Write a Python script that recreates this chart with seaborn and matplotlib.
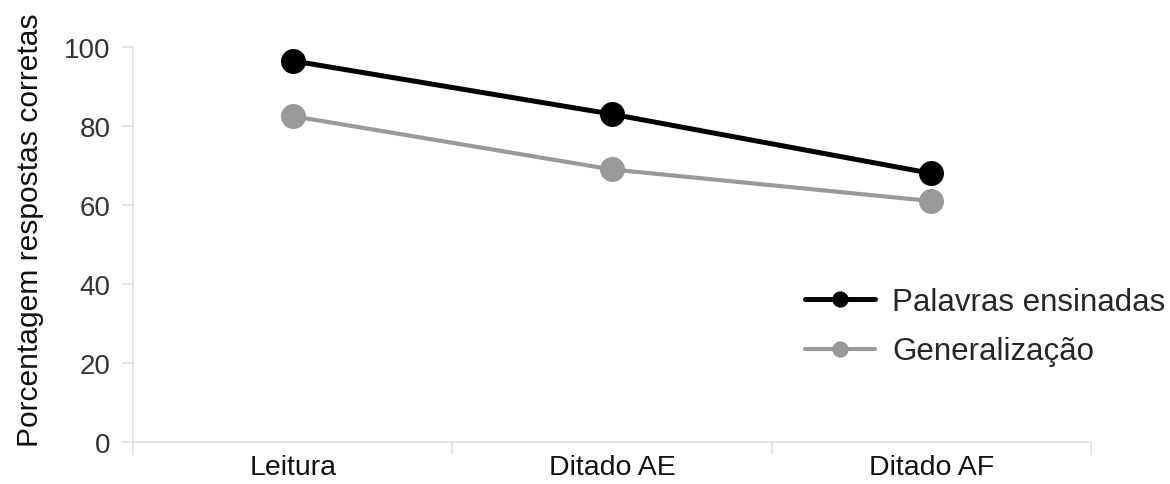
import pandas as pd
import matplotlib
matplotlib.use('Agg')
import matplotlib.pyplot as plt
import seaborn as sns

categorias = ['Leitura', 'Ditado AE', 'Ditado AF']
palavras_ensinadas = [96.5, 83.0, 68.0]
generalizacao = [82.5, 69.0, 61.0]
series = ['Palavras ensinadas', 'Generalização']

df = pd.DataFrame({
    'Tarefa': categorias * 2,
    'Porcentagem': palavras_ensinadas + generalizacao,
    'Serie': [series[0]] * 3 + [series[1]] * 3,
})

sns.set_style('white')
plt.rcParams['font.family'] = ['Liberation Sans', 'DejaVu Sans']

fig = plt.figure(figsize=(11.7, 4.85), dpi=100)
ax = fig.add_axes([0.1137, 0.0866, 0.8188, 0.8144])

cores = {series[0]: '#000000', series[1]: '#999999'}
sns.lineplot(data=df, x='Tarefa', y='Porcentagem', hue='Serie', palette=cores,
             marker='o', markersize=18, markeredgewidth=0, linewidth=3.6,
             sort=False, ax=ax)
for linha in ax.lines:
    if linha.get_color() == '#999999':
        linha.set_linewidth(3.0)

ax.set_xlim(-0.5, 2.5)
ax.set_ylim(0, 100)
ax.set_yticks([0, 20, 40, 60, 80, 100])
ax.set_xticks([0, 1, 2])
ax.set_xticklabels(categorias)
ax.set_xticks([-0.5, 0.5, 1.5, 2.5], minor=True)
ax.tick_params(axis='x', which='major', length=0, pad=9, labelsize=20.5, labelcolor='#111111')
ax.tick_params(axis='x', which='minor', length=9, width=1.2, color='#e0e0e0', direction='out', bottom=True)
ax.tick_params(axis='y', length=8, width=1.2, color='#e0e0e0', direction='out', left=True,
               pad=8, labelsize=20, labelcolor='#333333')

for lado in ['top', 'right']:
    ax.spines[lado].set_visible(False)
for lado in ['left', 'bottom']:
    ax.spines[lado].set_color('#e0e0e0')
    ax.spines[lado].set_linewidth(1.2)

ax.set_xlabel('')
ax.set_ylabel('Porcentagem respostas corretas', fontsize=21.6, color='#111111')
ax.yaxis.set_label_coords(-0.093, 0.539)

handles, labels = ax.get_legend_handles_labels()
ax.legend(handles, labels, frameon=False, fontsize=22.5, markerscale=0.65,
          handlelength=2.24, handletextpad=0.55, labelspacing=0.62, borderpad=0,
          borderaxespad=0, loc='upper left', bbox_to_anchor=(0.688, 0.406),
          bbox_transform=fig.transFigure)

fig.savefig('out.png', dpi=100)
